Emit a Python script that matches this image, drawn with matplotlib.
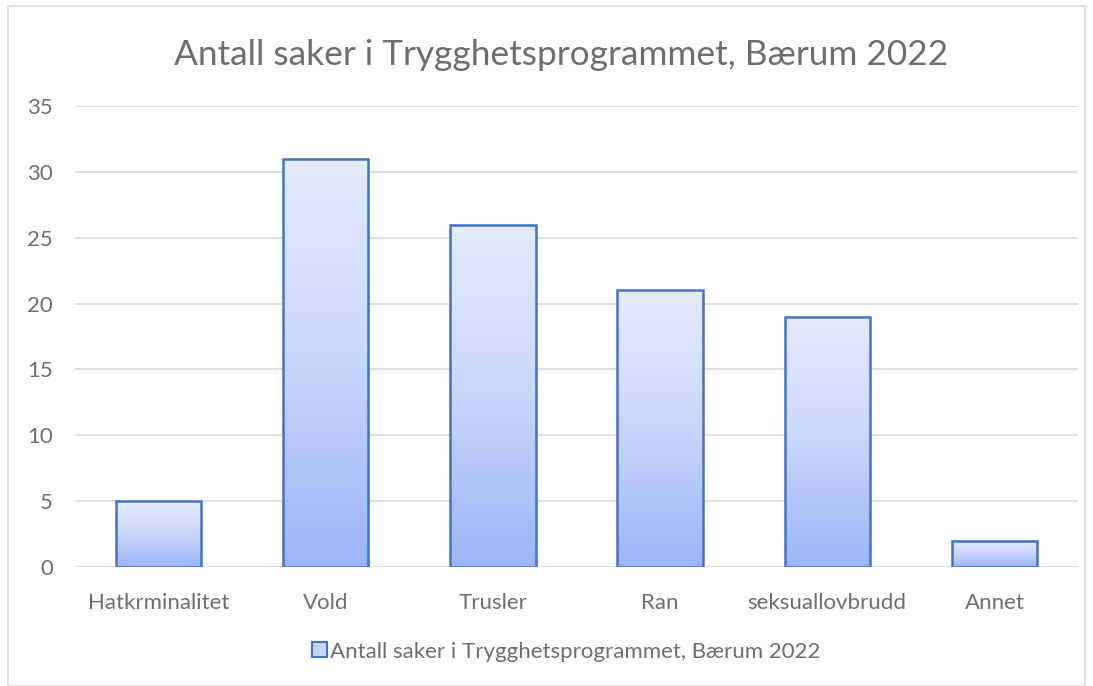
import numpy as np
import matplotlib.pyplot as plt
from matplotlib.patches import Rectangle, Patch
from matplotlib.colors import LinearSegmentedColormap

# Data
categories = ['Hatkrminalitet', 'Vold', 'Trusler', 'Ran', 'seksuallovbrudd', 'Annet']
values = [5, 31, 26, 21, 19, 2]
series_name = 'Antall saker i Trygghetsprogrammet, Bærum 2022'

plt.rcParams['font.family'] = ['Lato', 'DejaVu Sans']
text_gray = '#6e6e6e'
edge_blue = '#4472c4'

fig = plt.figure(figsize=(10.93, 6.86), dpi=100)
ax = fig.add_axes([0.0686, 0.1735, 0.9177, 0.672])

# gradient fill: light at top, bluer at bottom
cmap = LinearSegmentedColormap.from_list('grad', ['#9bb5f7', '#c9d6fb', '#e6ecfe'])
grad = np.linspace(0, 1, 256).reshape(-1, 1)

x = np.arange(len(categories))
width = 0.51
bars = ax.bar(x, values, width, facecolor='none', edgecolor=edge_blue,
              linewidth=1.8, zorder=3)
for b in bars:
    x0, w, h = b.get_x(), b.get_width(), b.get_height()
    ax.imshow(grad, cmap=cmap, origin='lower', aspect='auto',
              extent=(x0, x0 + w, 0, h), zorder=2, interpolation='bicubic')

ax.set_xlim(-0.5, len(categories) - 0.5)
ax.set_ylim(0, 35)
ax.set_yticks(np.arange(0, 36, 5))
ax.set_xticks(x)
ax.set_xticklabels(categories)
ax.yaxis.grid(True, color='#d9d9d9', linewidth=1.2, zorder=0)
ax.set_axisbelow(True)
for s in ax.spines.values():
    s.set_visible(False)
ax.tick_params(axis='both', length=0, labelsize=16, colors=text_gray)
ax.tick_params(axis='x', pad=19)
ax.tick_params(axis='y', pad=16)

fig.text(0.513, 0.92, series_name, ha='center', va='center',
         fontsize=25.4, color=text_gray)

handle = Patch(facecolor='#c9d6fb', edgecolor=edge_blue, linewidth=1.5)
fig.legend([handle], [series_name], loc='center', bbox_to_anchor=(0.518, 0.05),
           frameon=False, fontsize=16, labelcolor=text_gray,
           handlelength=0.65, handleheight=0.65, handletextpad=0.15)

# outer chart border
fig.patches.append(Rectangle((0.007, 0.0), 0.986, 0.991, transform=fig.transFigure,
                             fill=False, edgecolor='#d9d9d9', linewidth=1.2))

plt.savefig('out.png', dpi=100)
